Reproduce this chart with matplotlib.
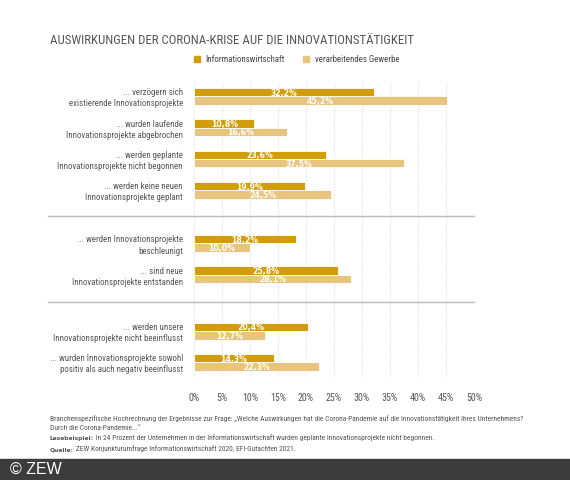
import matplotlib.pyplot as plt
from matplotlib.lines import Line2D

# -------------------------
# Data
# -------------------------
categories = [
    "... verzögern sich\nexistierende Innovationsprojekte",
    "... wurden laufende\nInnovationsprojekte abgebrochen",
    "... werden geplante\nInnovationsprojekte nicht begonnen",
    "... werden keine neuen\nInnovationsprojekte geplant",
    "... werden Innovationsprojekte\nbeschleunigt",
    "... sind neue\nInnovationsprojekte entstanden",
    "... werden unsere\nInnovationsprojekte nicht beeinflusst",
    "... wurden Innovationsprojekte sowohl\npositiv als auch negativ beeinflusst",
]
info_wirtschaft = [32.2, 10.8, 23.6, 19.9, 18.2, 25.8, 20.4, 14.3]
verarb_gewerbe = [45.2, 16.6, 37.5, 24.5, 10.0, 28.1, 12.7, 22.3]
groups = [0, 0, 0, 0, 1, 1, 2, 2]
series = ["Informationswirtschaft", "verarbeitendes Gewerbe"]
ticks = [0, 5, 10, 15, 20, 25, 30, 35, 40, 45, 50]

dark = "#d29c0a"
light = "#e8c47e"
grey = "#555555"
bold_font = ["DejaVu Sans"]

plt.rcParams["font.family"] = ["Roboto Condensed", "DejaVu Sans"]

W, H = 570, 480
fig = plt.figure(figsize=(W / 100, H / 100), dpi=100)
renderer = fig.canvas.get_renderer()


def fx(px):
    return px / W


def fy(py):
    return 1 - py / H


def fit(t, target_px):
    # scale font so the text is target_px wide
    w = t.get_window_extent(renderer=renderer).width
    t.set_fontsize(t.get_fontsize() * target_px / w)


def right_px(t):
    return t.get_window_extent(renderer=renderer).x1


ax = fig.add_axes([fx(194), fy(378), fx(280), (378 - 82) / H])

# slot positions with extra space between the groups
group_offset = [0, 0.7, 1.5]
pos = [i + group_offset[g] for i, g in enumerate(groups)]
h = 0.27

for i, p in enumerate(pos):
    ax.barh(p - h / 2, info_wirtschaft[i], height=h, color=dark,
            edgecolor="white", linewidth=0.6, zorder=3)
    ax.barh(p + h / 2, verarb_gewerbe[i], height=h, color=light,
            edgecolor="white", linewidth=0.6, zorder=3)
    ax.text(info_wirtschaft[i] / 2, p - h / 2, f"{info_wirtschaft[i]:.1f}%".replace(".", ","),
            ha="center", va="center_baseline", color="white", fontsize=5.6,
            family=bold_font, fontweight="bold", zorder=4)
    ax.text(verarb_gewerbe[i] / 2, p + h / 2, f"{verarb_gewerbe[i]:.1f}%".replace(".", ","),
            ha="center", va="center_baseline", color="white", fontsize=5.6,
            family=bold_font, fontweight="bold", zorder=4)

ax.set_xlim(0, 50)
ax.set_ylim(pos[-1] + 0.5, -0.46)
ax.set_xticks(ticks)
ax.set_xticklabels([f"{t}%" for t in ticks], fontsize=7.2, color=grey)
ax.set_yticks(pos)
ax.set_yticklabels(categories, fontsize=6.4, color=grey, linespacing=1.3)
ax.tick_params(length=0)
ax.tick_params(axis="y", pad=8)
ax.tick_params(axis="x", pad=11)
for s in ax.spines.values():
    s.set_visible(False)
ax.grid(axis="x", color="#dddddd", linestyle=(0, (2, 2)), linewidth=0.6, zorder=0)

# separator lines between the groups
for a, b in [(3, 4), (5, 6)]:
    ym = (pos[a] + pos[b]) / 2 - 0.03
    ax.plot([-26, 50], [ym, ym], color="#bbbbbb", linewidth=1.0, clip_on=False, zorder=2)

# title
title = fig.text(fx(50), fy(40), "AUSWIRKUNGEN DER CORONA-KRISE AUF DIE INNOVATIONSTÄTIGKEIT",
                 fontsize=10, color=grey, va="center")
fit(title, 364)

# legend
for x_sq, x_txt, width, col, lab in [(197, 205, 80, dark, series[0]),
                                     (305.5, 315, 85, light, series[1])]:
    fig.add_artist(Line2D([fx(x_sq)], [fy(59)], marker="s", markersize=4.5,
                          color=col, linestyle="none", transform=fig.transFigure))
    t = fig.text(fx(x_txt), fy(59), lab, fontsize=7, color="#444444", va="center")
    fit(t, width)

# footnotes
line1 = fig.text(fx(50), fy(421),
                 "Branchenspezifische Hochrechnung der Ergebnisse zur Frage: „Welche Auswirkungen hat die Corona-Pandemie auf die Innovationstätigkeit Ihres Unternehmens?",
                 fontsize=6, color=grey, va="baseline")
fit(line1, 477)
fs = line1.get_fontsize()
fig.text(fx(50), fy(430), "Durch die Corona-Pandemie...“",
         fontsize=fs, color=grey, va="baseline")
notes = [
    (440, "Lesebeispiel:",
     " In 24 Prozent der Unternehmen in der Informationswirtschaft wurden geplante Innovationsprojekte nicht begonnen."),
    (451, "Quelle:", " ZEW Konjunkturumfrage Informationswirtschaft 2020, EFI-Gutachten 2021."),
]
for y, head, body in notes:
    b = fig.text(fx(50), fy(y), head, fontsize=fs * 0.8, color=grey, va="baseline",
                 family=bold_font, fontweight="bold")
    fig.text(right_px(b) / W, fy(y), body, fontsize=fs, color=grey, va="baseline")

# footer band
fig.patches.append(plt.Rectangle((0, 0), 1, 21 / H, transform=fig.transFigure,
                                 color="#3c3c3c", zorder=0))
fig.text(fx(10), fy(469.5), "© ZEW", fontsize=11.5, color="white", va="center",
         family=["Liberation Sans", "DejaVu Sans"])

fig.savefig("out.png", dpi=100)
